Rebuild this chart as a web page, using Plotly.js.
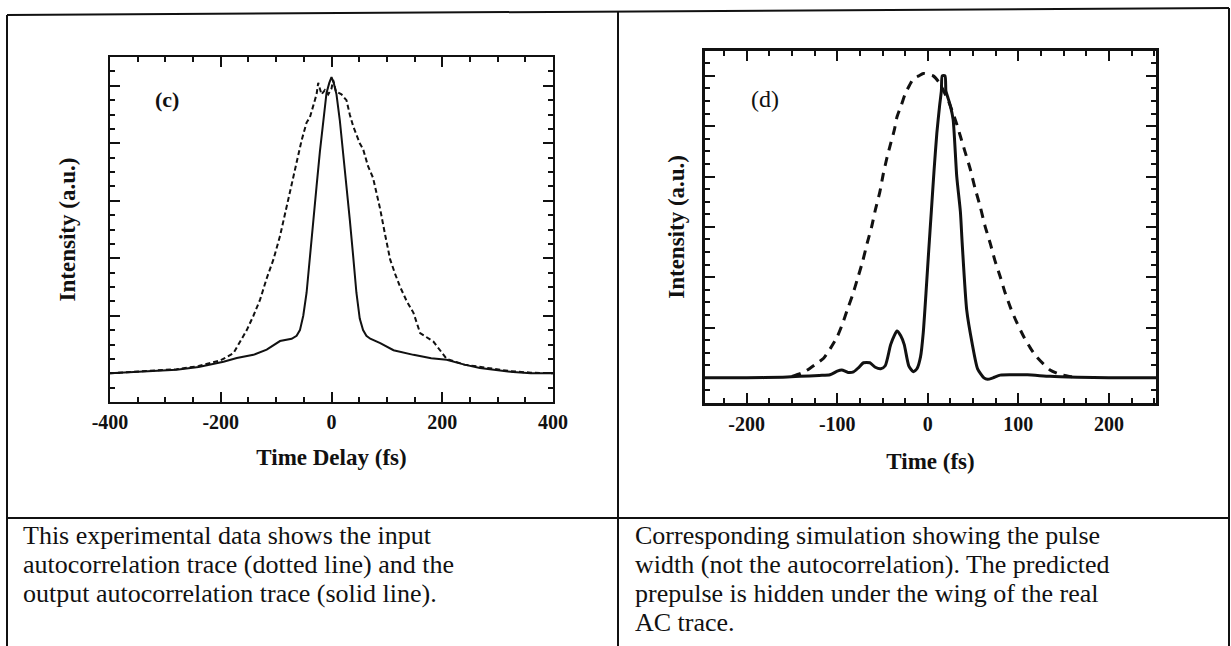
<!DOCTYPE html>
<html>
<head>
<meta charset="utf-8">
<script src="https://cdn.plot.ly/plotly-3.0.1.min.js"></script>
<style>html,body{margin:0;padding:0;background:#fff;}#chart{width:1231px;height:646px;}</style>
</head>
<body>
<div id="chart"></div>
<script>
// ---- Panel (c): experimental autocorrelation traces ----
const cSolidTime = [-400,-340,-280,-240,-195,-171,-141,-117,-93,-72,-63,-57,-51,-45,-39,-33,-27,-21,-15,-9,-4,0,4,9,15,21,27,33,39,45,51,57,63,70,88,112,148,180,208,240,268,300,328,360,400];
const cSolidVal  = [0.0,0.005,0.012,0.022,0.04,0.053,0.064,0.082,0.112,0.12,0.13,0.15,0.2,0.28,0.41,0.535,0.65,0.77,0.88,0.975,1.01,1.03,1.01,0.97,0.88,0.77,0.65,0.535,0.41,0.28,0.19,0.15,0.13,0.12,0.105,0.08,0.064,0.052,0.047,0.03,0.018,0.01,0.004,0.0,0.0];

const cDashTime = [-400,-340,-280,-240,-200,-177,-165,-153,-141,-129,-117,-105,-93,-81,-72,-63,-54,-45,-39,-33,-27,-24,-18,-12,-6,0,3,8,12,18,22,27,33,39,45,51,57,66,75,82,88,97,106,115,124,136,148,160,172,184,196,208,240,280,320,360,400];
const cDashVal  = [0.0,0.006,0.014,0.025,0.045,0.07,0.11,0.15,0.2,0.256,0.33,0.395,0.477,0.58,0.66,0.744,0.81,0.872,0.89,0.93,0.97,1.01,0.97,0.985,0.97,0.99,1.02,0.98,0.975,0.97,0.96,0.95,0.9,0.86,0.83,0.8,0.78,0.72,0.68,0.62,0.57,0.48,0.395,0.345,0.3,0.25,0.21,0.14,0.125,0.11,0.08,0.05,0.03,0.018,0.008,0.002,0.0];

// ---- Panel (d): simulated pulse ----
const dSolidTime = [-246,-200,-160,-141,-120,-108,-100,-95,-88,-82,-76,-71,-64,-58,-52,-47,-41,-37,-34,-30,-26,-21,-16,-12,-8,-5,-2,1,4,7,10,13,15,16,19,20,22,25,28,32,36,38,43,49,55,62,66,72,80,95,110,135,165,200,252];
const dSolidVal  = [0.0,0.0,0.002,0.005,0.008,0.01,0.022,0.026,0.018,0.02,0.035,0.05,0.05,0.035,0.03,0.04,0.11,0.14,0.155,0.14,0.11,0.04,0.02,0.03,0.07,0.15,0.28,0.42,0.555,0.69,0.81,0.9,0.95,1.0,1.0,0.95,0.93,0.9,0.855,0.666,0.55,0.445,0.224,0.114,0.03,0.0,-0.005,0.0,0.009,0.01,0.01,0.005,0.002,0.0,0.0];

const dDashTime = [-150,-140,-133,-124,-115,-107,-100,-94,-89,-83,-78,-72,-67,-62,-58,-53,-49,-45,-41,-37,-34,-29,-25,-20,-16,-10,-5,0,6,12,17,23,28,32,36,41,47,52,58,63,69,74,80,85,91,98,106,113,120,128,135,143,150,158,165];
const dDashVal  = [0.005,0.015,0.026,0.045,0.065,0.1,0.136,0.18,0.224,0.275,0.324,0.385,0.445,0.5,0.555,0.615,0.677,0.73,0.776,0.82,0.864,0.905,0.94,0.97,0.99,1.0,1.008,1.005,1.0,0.98,0.953,0.915,0.875,0.84,0.8,0.75,0.69,0.63,0.566,0.505,0.445,0.39,0.335,0.285,0.235,0.185,0.136,0.1,0.07,0.045,0.026,0.015,0.009,0.004,0.0];

// ---- Tick labels and texts ----
const cTickVals = [-400,-200,0,200,400];
const cTickText = ['-400','-200','0','200','400'];
const dTickVals = [-200,-100,0,100,200];
const dTickText = ['-200','-100','0','100','200'];
const cXTitle = 'Time Delay (fs)';
const dXTitle = 'Time (fs)';
const yTitle = 'Intensity (a.u.)';
const cLabel = '(c)';
const dLabel = '(d)';
const leftCaption = ['This experimental data shows the input','autocorrelation trace (dotted line) and the','output autocorrelation trace (solid line).'];
const rightCaption = ['Corresponding simulation showing the pulse','width (not the autocorrelation). The predicted','prepulse is hidden under the wing of the real','AC trace.'];

const W = 1231, H = 646;
const px = v => v / W;
const py = v => 1 - v / H;
const SERIF = 'Liberation Serif, Times New Roman, serif';
const INK = '#111';

const traces = [
  {x: cSolidTime, y: cSolidVal, xaxis: 'x', yaxis: 'y', mode: 'lines', name: 'output AC',
   line: {color: INK, width: 2}},
  {x: cDashTime, y: cDashVal, xaxis: 'x', yaxis: 'y', mode: 'lines', name: 'input AC',
   line: {color: INK, width: 2, dash: '5px,3px'}},
  {x: dSolidTime, y: dSolidVal, xaxis: 'x2', yaxis: 'y2', mode: 'lines', name: 'pulse',
   line: {color: INK, width: 3, shape: 'spline', smoothing: 0.6}},
  {x: dDashTime, y: dDashVal, xaxis: 'x2', yaxis: 'y2', mode: 'lines', name: 'AC trace',
   line: {color: INK, width: 3, dash: '9px,7px', shape: 'spline', smoothing: 0.6}}
];

const tickFont = {family: SERIF, size: 20, weight: 700, color: INK};
const titleFont = {family: SERIF, size: 23, weight: 700, color: INK};

function xAxis(domain, range, vals, text, minorStep, title, lw, standoff) {
  return {
    domain: domain, range: range, tickmode: 'array', tickvals: vals, ticktext: text,
    ticks: 'inside', ticklen: 10, tickwidth: 2, tickcolor: INK, mirror: 'ticks',
    showline: true, linewidth: lw, linecolor: INK, showgrid: false, zeroline: false,
    minor: {ticks: 'inside', dtick: minorStep, tick0: 0, ticklen: 5, tickwidth: 2, tickcolor: INK, showgrid: false},
    tickfont: tickFont, ticklabelstandoff: 1,
    title: {text: title, font: titleFont, standoff: standoff},
    fixedrange: true
  };
}
function yAxis(domain, range, step, minorStep, lw, standoff) {
  return {
    domain: domain, range: range, tick0: 0, dtick: step, showticklabels: false,
    ticks: 'inside', ticklen: 10, tickwidth: 2, tickcolor: INK, mirror: 'ticks',
    showline: true, linewidth: lw, linecolor: INK, showgrid: false, zeroline: false,
    minor: {ticks: 'inside', dtick: minorStep, tick0: 0, ticklen: 5, tickwidth: 2, tickcolor: INK, showgrid: false},
    title: {text: yTitle, font: titleFont, standoff: standoff},
    fixedrange: true
  };
}

const annotations = [
  {xref: 'x', yref: 'y', x: -297, y: 0.953, text: cLabel, showarrow: false,
   font: {family: SERIF, size: 22, weight: 700, color: INK}},
  {xref: 'x2', yref: 'y2', x: -180, y: 0.923, text: dLabel, showarrow: false,
   font: {family: SERIF, size: 24, color: INK}}
];
const capY = [535, 564, 593, 622];
const capFont = {family: SERIF, size: 26, color: INK};
leftCaption.forEach((t, i) => annotations.push({
  xref: 'paper', yref: 'paper', x: px(22), y: py(capY[i]), xanchor: 'left', yanchor: 'middle',
  text: t, showarrow: false, borderpad: 0, font: capFont}));
rightCaption.forEach((t, i) => annotations.push({
  xref: 'paper', yref: 'paper', x: px(634), y: py(capY[i]), xanchor: 'left', yanchor: 'middle',
  text: t, showarrow: false, borderpad: 0, font: capFont}));

const lineStyle = {color: INK, width: 2};
const shapes = [
  {type: 'line', xref: 'paper', yref: 'paper', x0: px(7), y0: py(15), x1: px(1229), y1: py(8), line: lineStyle},
  {type: 'line', xref: 'paper', yref: 'paper', x0: px(7), y0: py(15), x1: px(7), y1: 0, line: lineStyle},
  {type: 'line', xref: 'paper', yref: 'paper', x0: px(1229), y0: py(8), x1: px(1229), y1: 0, line: lineStyle},
  {type: 'line', xref: 'paper', yref: 'paper', x0: px(618), y0: py(12), x1: px(618), y1: 0, line: lineStyle},
  {type: 'line', xref: 'paper', yref: 'paper', x0: px(7), y0: py(518), x1: px(1229), y1: py(518), line: lineStyle}
];

const layout = {
  width: W, height: H, margin: {l: 0, r: 0, t: 0, b: 0},
  paper_bgcolor: '#fff', plot_bgcolor: '#fff', showlegend: false,
  xaxis: Object.assign(xAxis([px(110), px(553)], [-400, 400], cTickVals, cTickText, 50, cXTitle, 2, 17), {anchor: 'y'}),
  yaxis: Object.assign(yAxis([py(402), py(57)], [-0.1, 1.1], 0.2, 0.05, 2, 26), {anchor: 'x'}),
  xaxis2: Object.assign(xAxis([px(705), px(1156)], [-246, 252], dTickVals, dTickText, 25, dXTitle, 3, 19), {anchor: 'y2'}),
  yaxis2: Object.assign(yAxis([py(403), py(50.7)], [-1/12, 1 + 1/12], 1/6, 1/24, 3, 11), {anchor: 'x2'}),
  annotations: annotations, shapes: shapes
};

Plotly.newPlot('chart', traces, layout, {displayModeBar: false, staticPlot: true});
</script>
</body>
</html>
